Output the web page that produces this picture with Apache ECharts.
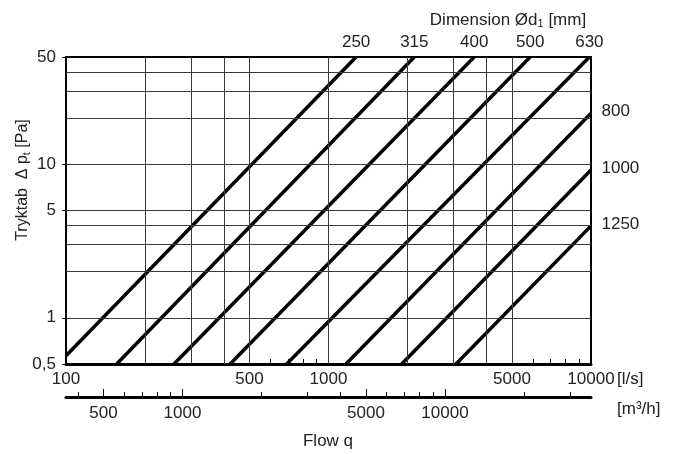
<!DOCTYPE html>
<html>
<head>
<meta charset="utf-8">
<script src="https://cdn.jsdelivr.net/npm/echarts@6/dist/echarts.min.js"></script>
<style>html,body{margin:0;padding:0;background:#fff}#c{width:675px;height:454px}</style>
</head>
<body>
<div id="c"></div>
<script>
// Dimensions (mm) and the end points of each pressure-drop line
const dims      = ['250', '315', '400', '500', '630', '800', '1000', '1250'];
const startFlow = [100, 156, 258, 422, 693, 1166, 1901, 3060];     // l/s
const startPa   = [0.566, 0.5, 0.5, 0.5, 0.5, 0.5, 0.5, 0.5];        // Pa
const endFlow   = [1274, 2123, 3590, 5865, 9860, 10000, 10000, 10000];
const endPa     = [50, 50, 50, 50, 50, 21.5, 9.17, 3.97];

// Axis ticks / labels
const flowLabels   = [100, 500, 1000, 5000, 10000];
const flowMinor    = [600, 700, 800, 900, 6000, 7000, 8000, 9000];
const paLabels     = [0.5, 1, 5, 10, 50];
const m3hLabels    = [500, 1000, 5000, 10000];
const m3hMinor     = [400, 600, 700, 800, 900, 2000, 3000, 4000, 6000, 7000, 8000, 9000, 20000, 30000];
const gridFlow     = [200, 300, 400, 500, 1000, 2000, 3000, 4000, 5000];
const gridPa       = [1, 2, 3, 4, 5, 10, 20, 30, 40];

const FONT = "'Liberation Sans', Arial, sans-serif";
const TXT = '#222';
const FS = 17;

const chart = echarts.init(document.getElementById('c'), null, {renderer: 'canvas'});

const gridLines = [];
gridFlow.forEach(v => gridLines.push({xAxis: v}));
gridPa.forEach(v => gridLines.push({yAxis: v}));

const series = dims.map((d, i) => {
  const topLabel = endPa[i] >= 50;
  return {
    type: 'line',
    name: d,
    xAxisIndex: 0,
    yAxisIndex: 0,
    symbol: 'circle',
    symbolSize: 1,
    showSymbol: true,
    animation: false,
    silent: true,
    clip: true,
    lineStyle: {color: '#000', width: 3.5},
    itemStyle: {color: '#000'},
    data: [
      [startFlow[i], startPa[i]],
      {
        value: [endFlow[i], endPa[i]],
        label: {
          show: true,
          formatter: d,
          position: topLabel ? 'top' : 'right',
          distance: topLabel ? 6 : 10,
          offset: topLabel ? [0, 0] : [0, -2],
          color: TXT,
          fontSize: FS,
          fontFamily: FONT
        }
      }
    ],
    markLine: i === 0 ? {
      silent: true,
      animation: false,
      symbol: ['none', 'none'],
      label: {show: false},
      lineStyle: {color: '#3a3a3a', width: 1, type: 'solid'},
      data: gridLines
    } : undefined,
    z: 3
  };
});

const plain = v => String(v);

const option = {
  backgroundColor: '#fff',
  animation: false,
  grid: {
    left: 66, right: 84, top: 57, bottom: 90,
    show: true, borderColor: '#000', borderWidth: 2, backgroundColor: 'transparent'
  },
  xAxis: [
    {
      type: 'log', logBase: 10, min: 100, max: 10000, position: 'bottom',
      axisLine: {show: true, lineStyle: {color: '#000', width: 3}},
      axisTick: {show: true, inside: true, length: 5, customValues: flowMinor, lineStyle: {color: '#000', width: 1}},
      axisLabel: {show: true, customValues: flowLabels, margin: 7, color: TXT, fontSize: FS, fontFamily: FONT, formatter: plain},
      splitLine: {show: false},
      minorTick: {show: false}
    },
    {
      type: 'log', logBase: 10, min: 360, max: 36000, position: 'bottom', offset: 33,
      axisLine: {show: true, lineStyle: {color: '#000', width: 3}},
      axisTick: {show: true, inside: true, length: 8, customValues: m3hLabels, lineStyle: {color: '#000', width: 1}},
      axisLabel: {show: true, customValues: m3hLabels, margin: 8, color: TXT, fontSize: FS, fontFamily: FONT, formatter: plain},
      splitLine: {show: false}
    },
    {
      type: 'log', logBase: 10, min: 360, max: 36000, position: 'bottom', offset: 33,
      axisLine: {show: false},
      axisTick: {show: true, inside: true, length: 5, customValues: m3hMinor, lineStyle: {color: '#000', width: 1}},
      axisLabel: {show: false},
      splitLine: {show: false}
    }
  ],
  yAxis: [
    {
      type: 'log', logBase: 10, min: 0.5, max: 50,
      axisLine: {show: true, lineStyle: {color: '#000', width: 2}},
      axisTick: {show: true, inside: false, length: 4, customValues: paLabels, lineStyle: {color: '#000', width: 1}},
      axisLabel: {
        show: true, customValues: paLabels, margin: 10, color: TXT, fontSize: FS, fontFamily: FONT,
        formatter: v => String(v).replace('.', ',')
      },
      splitLine: {show: false}
    }
  ],
  graphic: [
    {
      type: 'text', x: 508, y: 20,
      style: {
        text: '{a|Dimension Ød}{s|1}{a| [mm]}',
        align: 'center', verticalAlign: 'middle',
        rich: {
          a: {fontSize: FS, fontFamily: FONT, fill: TXT},
          s: {fontSize: 11, fontFamily: FONT, fill: TXT, padding: [8, 0, 0, 0]}
        }
      }
    },
    {
      type: 'text', x: 23, y: 180, rotation: Math.PI / 2,
      style: {
        text: '{a|Tryktab  Δ p}{s|t}{a| [Pa]}',
        align: 'center', verticalAlign: 'middle',
        rich: {
          a: {fontSize: 16, fontFamily: FONT, fill: TXT},
          s: {fontSize: 11, fontFamily: FONT, fill: TXT, padding: [8, 0, 0, 0]}
        }
      }
    },
    {
      type: 'text', x: 617, y: 379,
      style: {text: '[l/s]', fontSize: FS, fontFamily: FONT, fill: TXT, align: 'left', verticalAlign: 'middle'}
    },
    {
      type: 'text', x: 617, y: 409,
      style: {text: '[m³/h]', fontSize: FS, fontFamily: FONT, fill: TXT, align: 'left', verticalAlign: 'middle'}
    },
    {
      type: 'text', x: 328, y: 441,
      style: {text: 'Flow q', fontSize: FS, fontFamily: FONT, fill: TXT, align: 'center', verticalAlign: 'middle'}
    }
  ],
  series: series
};

chart.setOption(option);
</script>
</body>
</html>
